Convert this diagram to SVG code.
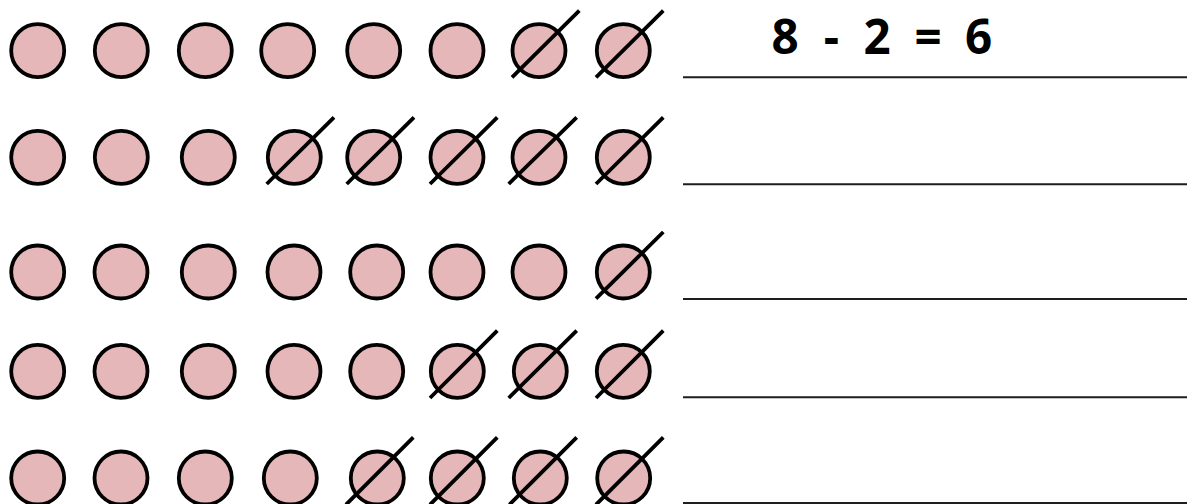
<svg xmlns="http://www.w3.org/2000/svg" width="1187" height="504" viewBox="0 0 1187 504">
<style>
.c{fill:#e5b7b8;stroke:#000;stroke-width:3.8}
.x{stroke:#000;stroke-width:3.8;stroke-linecap:butt}
.r{stroke:#1e1e1e;stroke-width:2}
.t{font-family:"Open Sans","Liberation Sans",sans-serif;font-weight:bold;font-size:47.5px;fill:#000;text-anchor:middle}
</style>
<rect width="1187" height="504" fill="#fff"/>
<!-- row 1 -->
<g id="r1c1"><circle class="c" cx="37.7" cy="50.7" r="26.5"/></g>
<g id="r1c2"><circle class="c" cx="121.3" cy="50.7" r="26.5"/></g>
<g id="r1c3"><circle class="c" cx="205.3" cy="50.7" r="26.5"/></g>
<g id="r1c4"><circle class="c" cx="287.7" cy="50.7" r="26.5"/></g>
<g id="r1c5"><circle class="c" cx="373.7" cy="50.7" r="26.5"/></g>
<g id="r1c6"><circle class="c" cx="457" cy="50.7" r="26.5"/></g>
<g id="r1c7"><circle class="c" cx="539" cy="50.7" r="26.5"/><line class="x" x1="512" y1="77.3" x2="579.3" y2="10.7"/></g>
<g id="r1c8"><circle class="c" cx="623.3" cy="50.7" r="26.5"/><line class="x" x1="596" y1="77.3" x2="663.3" y2="10.7"/></g>
<!-- row 2 -->
<g id="r2c1"><circle class="c" cx="37.7" cy="157.3" r="26.5"/></g>
<g id="r2c2"><circle class="c" cx="121.3" cy="157.3" r="26.5"/></g>
<g id="r2c3"><circle class="c" cx="208.3" cy="157.3" r="26.5"/></g>
<g id="r2c4"><circle class="c" cx="294.3" cy="157.3" r="26.5"/><line class="x" x1="266.7" y1="184" x2="334" y2="117.3"/></g>
<g id="r2c5"><circle class="c" cx="373.7" cy="157.3" r="26.5"/><line class="x" x1="346.7" y1="184" x2="414" y2="117.3"/></g>
<g id="r2c6"><circle class="c" cx="457" cy="157.3" r="26.5"/><line class="x" x1="430" y1="184" x2="497.3" y2="117.3"/></g>
<g id="r2c7"><circle class="c" cx="539" cy="157.3" r="26.5"/><line class="x" x1="508.7" y1="184" x2="576.7" y2="117.3"/></g>
<g id="r2c8"><circle class="c" cx="623.3" cy="157.3" r="26.5"/><line class="x" x1="596" y1="184" x2="663.3" y2="117.3"/></g>
<!-- row 3 -->
<g id="r3c1"><circle class="c" cx="37.7" cy="272" r="26.5"/></g>
<g id="r3c2"><circle class="c" cx="121" cy="272" r="26.5"/></g>
<g id="r3c3"><circle class="c" cx="208.3" cy="272" r="26.5"/></g>
<g id="r3c4"><circle class="c" cx="294" cy="272" r="26.5"/></g>
<g id="r3c5"><circle class="c" cx="376.7" cy="272" r="26.5"/></g>
<g id="r3c6"><circle class="c" cx="457" cy="272" r="26.5"/></g>
<g id="r3c7"><circle class="c" cx="539" cy="272" r="26.5"/></g>
<g id="r3c8"><circle class="c" cx="623.3" cy="272" r="26.5"/><line class="x" x1="596" y1="298.7" x2="663.3" y2="232"/></g>
<!-- row 4 -->
<g id="r4c1"><circle class="c" cx="37.7" cy="371.3" r="26.5"/></g>
<g id="r4c2"><circle class="c" cx="121" cy="371.3" r="26.5"/></g>
<g id="r4c3"><circle class="c" cx="208.3" cy="371.3" r="26.5"/></g>
<g id="r4c4"><circle class="c" cx="294" cy="371.3" r="26.5"/></g>
<g id="r4c5"><circle class="c" cx="376.7" cy="371.3" r="26.5"/></g>
<g id="r4c6"><circle class="c" cx="457.3" cy="371.3" r="26.5"/><line class="x" x1="430" y1="398" x2="497.3" y2="330.7"/></g>
<g id="r4c7"><circle class="c" cx="540.3" cy="371.3" r="26.5"/><line class="x" x1="508.7" y1="398" x2="576.7" y2="330.7"/></g>
<g id="r4c8"><circle class="c" cx="623.3" cy="371.3" r="26.5"/><line class="x" x1="596" y1="398" x2="663.3" y2="330.7"/></g>
<!-- row 5 -->
<g id="r5c1"><circle class="c" cx="37.7" cy="478" r="26.5"/></g>
<g id="r5c2"><circle class="c" cx="121" cy="478" r="26.5"/></g>
<g id="r5c3"><circle class="c" cx="205.3" cy="478" r="26.5"/></g>
<g id="r5c4"><circle class="c" cx="290.3" cy="478" r="26.5"/></g>
<g id="r5c5"><circle class="c" cx="377.3" cy="478" r="26.5"/><line class="x" x1="346" y1="504.7" x2="413.3" y2="437.3"/></g>
<g id="r5c6"><circle class="c" cx="457.3" cy="478" r="26.5"/><line class="x" x1="430" y1="504.7" x2="497.3" y2="437.3"/></g>
<g id="r5c7"><circle class="c" cx="540.3" cy="478" r="26.5"/><line class="x" x1="509.4" y1="504.7" x2="576.7" y2="437.3"/></g>
<g id="r5c8"><circle class="c" cx="623.7" cy="478" r="26.5"/><line class="x" x1="596" y1="504.7" x2="663.3" y2="437.3"/></g>
<!-- answer lines -->
<g id="lines">
<line class="r" x1="683" y1="77.3" x2="1187" y2="77.3"/>
<line class="r" x1="683" y1="184.3" x2="1187" y2="184.3"/>
<line class="r" x1="683" y1="299" x2="1187" y2="299"/>
<line class="r" x1="683" y1="397.3" x2="1187" y2="397.3"/>
<line class="r" x1="683" y1="503" x2="1187" y2="503"/>
</g>
<g id="equation">
<text class="t" x="785" y="53.5">8</text>
<text class="t" x="831.5" y="53.5">-</text>
<text class="t" x="877" y="53.5">2</text>
<text class="t" x="928" y="53.5">=</text>
<text class="t" x="978.5" y="53.5">6</text>
</g>
</svg>
